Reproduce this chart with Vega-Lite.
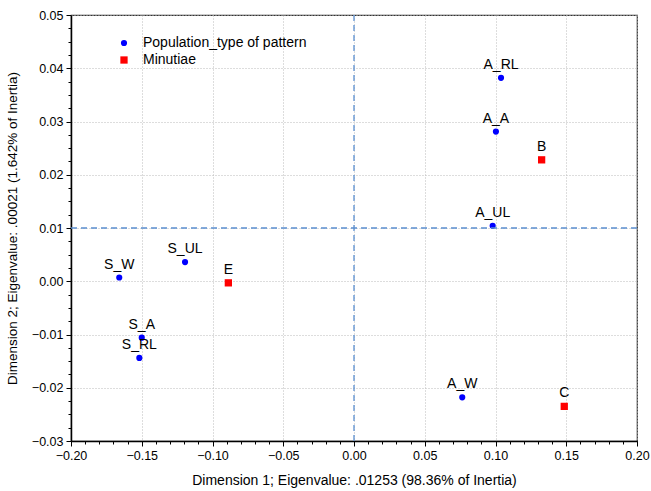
{
  "$schema": "https://vega.github.io/schema/vega-lite/v6.json",
  "width": 566,
  "height": 426,
  "autosize": {"type": "none"},
  "padding": {"left": 71, "top": 15, "right": 14, "bottom": 50},
  "background": "white",
  "config": {
    "font": "Liberation Sans",
    "view": {"stroke": "#333", "strokeWidth": 1.2},
    "axis": {
      "labelFont": "Liberation Sans",
      "labelFontSize": 12.5,
      "labelColor": "#000",
      "titleFont": "Liberation Sans",
      "titleFontWeight": "normal",
      "titleColor": "#000",
      "domainColor": "#000",
      "domainWidth": 1.5,
      "tickColor": "#000",
      "gridColor": "#bbb",
      "gridDash": [1, 2],
      "gridWidth": 1,
      "labelOverlap": false,
      "labelBound": false,
      "labelFlush": false
    }
  },
  "datasets": {
    "pts": [
      {"label": "A_RL", "x": 0.1039, "y": 0.0382, "type": "Population_type of pattern"},
      {"label": "A_A", "x": 0.1003, "y": 0.0281, "type": "Population_type of pattern"},
      {"label": "A_UL", "x": 0.0980, "y": 0.0104, "type": "Population_type of pattern"},
      {"label": "A_W", "x": 0.0765, "y": -0.0218, "type": "Population_type of pattern"},
      {"label": "S_W", "x": -0.1659, "y": 0.0007, "type": "Population_type of pattern"},
      {"label": "S_UL", "x": -0.1194, "y": 0.0036, "type": "Population_type of pattern"},
      {"label": "S_A", "x": -0.1500, "y": -0.0106, "type": "Population_type of pattern"},
      {"label": "S_RL", "x": -0.1517, "y": -0.0144, "type": "Population_type of pattern"},
      {"label": "B", "x": 0.1326, "y": 0.0228, "type": "Minutiae"},
      {"label": "E", "x": -0.0888, "y": -0.0003, "type": "Minutiae"},
      {"label": "C", "x": 0.1486, "y": -0.0235, "type": "Minutiae"}
    ]
  },
  "layer": [
    {
      "data": {"name": "pts"},
      "mark": {"type": "point", "filled": true, "opacity": 1},
      "encoding": {
        "x": {"field": "x", "type": "quantitative",
          "scale": {"domain": [-0.2, 0.2], "nice": false, "zero": false},
          "axis": {
            "title": "Dimension 1; Eigenvalue: .01253 (98.36% of Inertia)",
            "titleFontSize": 14,
            "titlePadding": 12,
            "tickCount": 200,
            "values": [-0.2,-0.19,-0.18,-0.17,-0.16,-0.15,-0.14,-0.13,-0.12,-0.11,-0.1,-0.09,-0.08,-0.07,-0.06,-0.05,-0.04,-0.03,-0.02,-0.01,0,0.01,0.02,0.03,0.04,0.05,0.06,0.07,0.08,0.09,0.1,0.11,0.12,0.13,0.14,0.15,0.16,0.17,0.18,0.19,0.2],
            "labelExpr": "abs(round(datum.value*1000)) % 50 === 0 ? format(datum.value, '.2f') : ''",
            "tickSize": {"condition": {"test": "abs(round(datum.value*1000)) % 50 === 0", "value": 5}, "value": 3},
            "gridOpacity": {"condition": {"test": "abs(round(datum.value*1000)) % 50 === 0", "value": 1}, "value": 0},
            "labelPadding": 3
          }
        },
        "y": {"field": "y", "type": "quantitative",
          "scale": {"domain": [-0.03, 0.05], "nice": false, "zero": false},
          "axis": {
            "title": "Dimension 2; Eigenvalue: .00021 (1.642% of Inertia)",
            "titleFontSize": 13.5,
            "titlePadding": 12,
            "tickCount": 200,
            "values": [-0.03,-0.0275,-0.025,-0.0225,-0.02,-0.0175,-0.015,-0.0125,-0.01,-0.0075,-0.005,-0.0025,0,0.0025,0.005,0.0075,0.01,0.0125,0.015,0.0175,0.02,0.0225,0.025,0.0275,0.03,0.0325,0.035,0.0375,0.04,0.0425,0.045,0.0475,0.05],
            "labelExpr": "abs(round(datum.value*10000)) % 100 === 0 ? format(datum.value, '.2f') : ''",
            "tickSize": {"condition": {"test": "abs(round(datum.value*10000)) % 100 === 0", "value": 5}, "value": 3},
            "gridOpacity": {"condition": {"test": "abs(round(datum.value*10000)) % 100 === 0", "value": 1}, "value": 0},
            "labelPadding": 3
          }
        },
        "color": {"field": "type", "type": "nominal",
          "scale": {"domain": ["Population_type of pattern", "Minutiae"], "range": ["#0000ff", "#ff0000"]},
          "legend": {"title": null, "orient": "none", "legendX": 46, "legendY": 21,
            "labelFont": "Liberation Sans", "labelFontSize": 14, "labelColor": "#000", "labelLimit": 400,
            "symbolSize": 50, "rowPadding": 3, "labelOffset": 12}},
        "shape": {"field": "type", "type": "nominal",
          "scale": {"domain": ["Population_type of pattern", "Minutiae"], "range": ["circle", "square"]},
          "legend": null},
        "size": {"field": "type", "type": "nominal",
          "scale": {"domain": ["Population_type of pattern", "Minutiae"], "range": [38, 53]},
          "legend": null}
      }
    },
    {
      "data": {"values": [{"v": 0}]},
      "mark": {"type": "rule", "color": "#5b8fd0", "strokeDash": [6, 4], "strokeWidth": 1.3},
      "encoding": {
        "x": {"field": "v", "type": "quantitative"}
      }
    },
    {
      "data": {"values": [{"v": 0.01}]},
      "mark": {"type": "rule", "color": "#5b8fd0", "strokeDash": [6, 4], "strokeWidth": 1.3},
      "encoding": {
        "y": {"field": "v", "type": "quantitative"}
      }
    },
    {
      "data": {"name": "pts"},
      "mark": {"type": "text", "dy": -13, "fontSize": 14, "font": "Liberation Sans", "color": "#000"},
      "encoding": {
        "x": {"field": "x", "type": "quantitative"},
        "y": {"field": "y", "type": "quantitative"},
        "text": {"field": "label"}
      }
    }
  ]
}
